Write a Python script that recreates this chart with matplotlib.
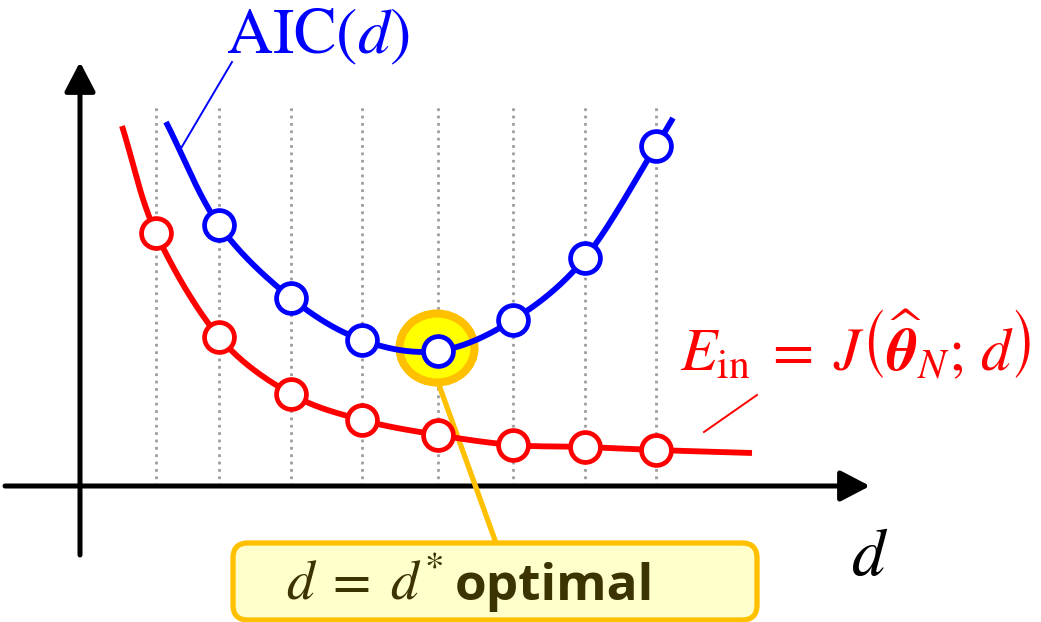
import matplotlib
matplotlib.use('Agg')
import matplotlib.pyplot as plt
import numpy as np
from matplotlib.patches import Ellipse, FancyBboxPatch

plt.rcParams['mathtext.fontset'] = 'stix'

# model order positions along the d axis (schematic units, origin = axis crossing)
d_grid = [76, 139, 211, 282, 358, 433, 505, 576]
# training error E_in at each d
ein = [253, 149, 92, 66, 51, 41, 39, 36]
# AIC at d_grid[1:]
aic = [261, 188, 146, 135, 166, 228, 340]
# where the drawn curves begin / end beyond the markers
ein_start, ein_end = (42, 360), (672, 33)
aic_start, aic_end = (86, 364), (593, 368)

RED = '#FF0000'
BLUE = '#0000FF'
GOLD = '#FFC000'
TXT = '#3B3300'


def smooth(xs, ys, n=24):
    # Catmull-Rom spline through the given points (for drawing only)
    p = np.column_stack([xs, ys]).astype(float)
    p = np.vstack([2 * p[0] - p[1], p, 2 * p[-1] - p[-2]])
    out = []
    t = np.linspace(0, 1, n, endpoint=False)[:, None]
    for i in range(1, len(p) - 2):
        p0, p1, p2, p3 = p[i - 1], p[i], p[i + 1], p[i + 2]
        seg = 0.5 * ((2 * p1) + (-p0 + p2) * t + (2 * p0 - 5 * p1 + 4 * p2 - p3) * t ** 2
                     + (-p0 + 3 * p1 - 3 * p2 + p3) * t ** 3)
        out.append(seg)
    out.append(p[-2][None, :])
    out = np.vstack(out)
    return out[:, 0], out[:, 1]


fig = plt.figure(figsize=(10.41, 6.22), dpi=100)
ax = fig.add_axes([0, 0, 1, 1])
ax.set_xlim(-80, 961)
ax.set_ylim(-136, 486)
ax.axis('off')

# dotted guides at each d
ax.vlines(d_grid, 0, 380, colors='#9E9E9E', linestyles=':', lw=2.0, zorder=1)

# axes with arrows
arrow = dict(arrowstyle='-|>,head_length=0.9,head_width=0.47', lw=3.6, color='black',
             mutation_scale=20, shrinkA=0, shrinkB=0)
ax.annotate('', xy=(790, 0), xytext=(-75, 0), arrowprops=arrow, zorder=2)
ax.annotate('', xy=(0, 424), xytext=(0, -69), arrowprops=arrow, zorder=2)

# highlight of the optimum
i_opt = int(np.argmin(aic))
d_opt, aic_opt = d_grid[1:][i_opt], aic[i_opt]
ax.plot([d_opt + 1, d_opt + 58], [aic_opt - 34, -57], color=GOLD, lw=3.8,
        solid_capstyle='butt', zorder=2)
ax.add_patch(Ellipse((d_opt - 1, aic_opt + 3), 75, 69, facecolor='#FFFF00',
                     edgecolor=GOLD, lw=5.8, zorder=3))

# curves
ex, ey = smooth([ein_start[0]] + d_grid + [ein_end[0]], [ein_start[1]] + ein + [ein_end[1]])
ax.plot(ex, ey, color=RED, lw=4.2, solid_capstyle='butt', zorder=4)
ax.plot(d_grid, ein, 'o', ms=21.5, mew=3.4, mec=RED, mfc='white', zorder=5)

axx, ayy = smooth([aic_start[0]] + d_grid[1:] + [aic_end[0]], [aic_start[1]] + aic + [aic_end[1]])
ax.plot(axx, ayy, color=BLUE, lw=4.2, solid_capstyle='butt', zorder=4)
ax.plot(d_grid[1:], aic, 'o', ms=21.5, mew=3.4, mec=BLUE, mfc='white', zorder=5)

# labels with leader lines
ax.plot([152, 100], [424, 336], color=BLUE, lw=1.4, zorder=4)
ax.text(238, 433, r'$\mathrm{AIC}(d)$', color=BLUE, fontsize=46, ha='center', va='baseline')
ax.plot([677, 624], [91, 54], color=RED, lw=1.4, zorder=4)
ax.text(776, 116, r'$E_{\mathrm{in}}\;=\;J\left(\widehat{\boldsymbol{\theta}}_N;\,d\right)$',
        color=RED, fontsize=43, ha='center', va='baseline')
ax.text(790, -89, r'$d$', color='black', fontsize=48, ha='center', va='baseline')

# optimum call-out box
ax.add_patch(FancyBboxPatch((153, -134), 524, 77, boxstyle='round,pad=0,rounding_size=15',
                            facecolor='#FFFFCC', edgecolor=GOLD, lw=3.8, zorder=6))
ax.text(206, -114, r'$d\;=\;d^{*}$', color=TXT, fontsize=40, ha='left', va='baseline', zorder=7)
ax.text(574, -114, 'optimal', color=TXT, fontsize=37, fontweight='bold', family='Open Sans',
        ha='right', va='baseline', zorder=7)

fig.savefig('out.png', dpi=100)
plt.close(fig)
